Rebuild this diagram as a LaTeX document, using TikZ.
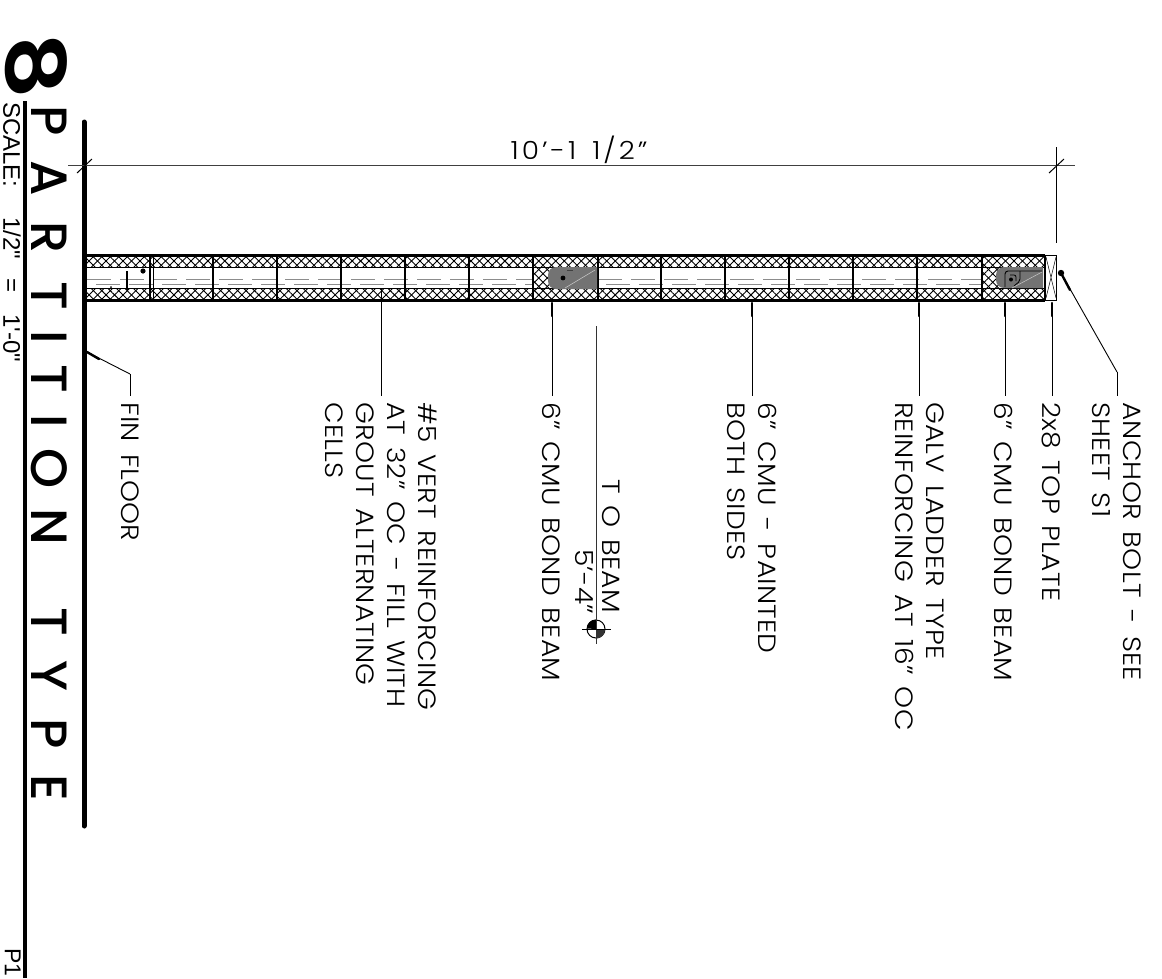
\documentclass[tikz,border=0pt]{standalone}
\usepackage{fontspec}
\setmainfont{Poppins Light}[FakeStretch=1.12,LetterSpace=1,WordSpace=1.5]
\newfontfamily\titlefont{Poppins}[UprightFont=* Medium]
\newfontfamily\eightfont{Poppins}[UprightFont=* SemiBold]
\newfontfamily\scalefont{Liberation Sans}
\usetikzlibrary{patterns.meta,positioning}

\begin{document}
\begin{tikzpicture}[x=1pt, y=-1pt]
% STYLES
\tikzset{%
    note/.style={%
rotate=-90,
inner sep=0pt,
align=left,
anchor=north west,
font=\fontsize{25}{31}\selectfont
                          },
    titleletter/.style={%
rotate=-90,
inner sep=0pt,
font=\titlefont\fontsize{51}{51}\selectfont
                          },
    leader/.style={line width=0.9pt, shorten >=6pt},
    stub/.style={line width=2.4pt, line cap=round},
    crosshatch/.style={%
pattern={Lines[angle=45,distance=6pt,line width=0.9pt]},
preaction={pattern={Lines[angle=-45,distance=6pt,line width=0.9pt]}}
                          },
    rebar/.style={gray!90, line width=1pt, dash pattern=on 24pt off 9pt},
    grout/.style={fill=black!55}
             }
\useasboundingbox (0,0) rectangle (1162,978);

% Draw title
\node [rotate=-90, inner sep=0pt, font=\eightfont\fontsize{82}{82}\selectfont, xscale=1.2, xslant=-0.12] (eight) at (36,66) {8};
\foreach \letter/\ypos in {P/121,A/178,R/238,T/296,I/337,T/379,I/421,O/468,N/527,T/622,Y/676,P/734,E/788}
  \node [titleletter] (title\ypos) at (49,\ypos) {\letter};
\node [rotate=-90, inner sep=0pt, anchor=north west, font=\scalefont\fontsize{24}{24}\selectfont] (scale) at (21,102) {SCALE:\hspace{30pt}1/2"\hspace{19pt}=\hspace{22pt}1'-0"};
\node [rotate=-90, inner sep=0pt, anchor=north west, font=\scalefont\fontsize{23}{23}\selectfont] (sheet) at (21,948) {P1};
\draw [line width=3.5pt] (25,101) -- (25,978);
\draw [line width=5pt, line cap=round] (84,122) -- (84,826);

% Draw wall
\foreach \ytop/\ybot in {256/267,289/300}
  \fill [crosshatch] (87,\ytop) rectangle (1045,\ybot);
\foreach \xleft/\xright in {533/560,982/1005}
  \fill [crosshatch] (\xleft,267) rectangle (\xright,289);
\draw [rebar] (87,279) -- (532,279);
\draw [rebar] (96,284) -- (532,284);
\draw [rebar] (598,279) -- (981,279);
\draw [rebar] (606,284) -- (981,284);
\draw [line width=0.7pt] (87,267.5) -- (1045,267.5) (87,288.5) -- (1045,288.5);
\draw [line width=3.5pt] (87,255.5) -- (1045,255.5) (87,300.5) -- (1045,300.5);
\foreach \xjoint in {150,213,277,341,405,469,533,598,661,725,789,853,917,982,1045}
  \draw [line width=1.6pt] (\xjoint,255) -- (\xjoint,301);
\draw [line width=0.7pt] (153,255) -- (153,301);

% Draw bars and bond beams
\draw [line width=1.6pt] (127,271) -- (127,290);
\fill (143,271) circle (2.6pt) (111,287) circle (1pt);
\fill [grout] (597,267) [rounded corners=8pt] -- (548,267) -- (548,289) [sharp corners] -- (597,289) -- cycle;
\fill (563,278) circle (2.4pt);
\draw [black!75, line width=1pt] (567,270.5) -- (573,270.5);
\draw [white!80!black, line width=0.5pt] (565,288) -- (595,270);
\fill [grout] (1043,267) [rounded corners=8pt] -- (996,267) -- (996,288) [sharp corners] -- (1043,288) -- cycle;
\draw [line width=0.9pt, rounded corners=3pt] (1042,271) -- (1005,271) -- (1005,287);
\draw [line width=0.8pt, rounded corners=2pt] (1020,271) -- (1020,281) -- (1014,286) (1010,275) -- (1016,275) -- (1016,281);
\fill (1011,279.5) circle (2pt);
\draw [white!80!black, line width=0.5pt] (1012,288) -- (1042,272);

% Draw top plate
\draw [line width=0.8pt] (1045.5,255) rectangle (1056.5,300);
\draw [line width=0.5pt] (1046,257) -- (1056,298) (1056,257) -- (1046,298);

% Draw dimension
\draw [black!75, line width=1pt] (68,165.5) -- (1075,165.5);
\draw [line width=1pt] (77,173) -- (92,159);
\draw [line width=1pt] (1049,173) -- (1064,159);
\draw [line width=0.9pt] (1056,147) -- (1056,243);
\node [inner sep=0pt, font=\fontsize{25}{25}\selectfont\addfontfeature{LetterSpace=12}] (span) at (579,150) {10'-1 1/2"};

% Draw notes
\node [note] (finfloor) at (139,402) {FIN FLOOR};
\node [note] (vertbar) at (437,402) {\#5 VERT REINFORCING\\AT 32" OC - FILL WITH\\GROUT ALTERNATING\\CELLS};
\node [note] (bondbeamA) at (561,402) {6" CMU BOND BEAM};
\node [note] (painted) at (777,402) {6" CMU - PAINTED\\BOTH SIDES};
\node [note] (ladder) at (944,402) {GALV LADDER TYPE\\REINFORCING AT 16" OC};
\node [note] (bondbeamB) at (1013,402) {6" CMU BOND BEAM};
\node [note] (topplate) at (1061,402) {2x8 TOP PLATE};
\node [note] (anchorbolt) at (1141,402) {ANCHOR BOLT - SEE\\SHEET S1};
\node [note] (tobeam) at (620,479) {T O BEAM};
\node [note] (elev) at (594,549) {5'-4"};

% Draw beam marker
\node [circle, draw, line width=1pt, minimum size=18pt, inner sep=0pt] (marker) at (596,629) {};
\fill (marker.center) -- (marker.north) arc (90:180:9pt) -- cycle;
\fill [black!80] (marker.center) -- (marker.south) arc (-90:0:9pt) -- cycle;
\coordinate (beamtop) at (596,326);
\coordinate (beamend) at (596,644);
\draw [black!80, line width=1pt] (beamtop) -- (beamend);
\draw [line width=0.7pt] (582,629) -- (611,629);

% Draw the links between notes and wall
\coordinate (wallbar) at (381,289);
\coordinate (wallA) at (552,303);
\coordinate (wallB) at (752,303);
\coordinate (wallC) at (919,303);
\coordinate (wallD) at (1005,303);
\coordinate (wallE) at (1052,303);
\coordinate (bolt) at (1061,273);
\coordinate (floor) at (87,352);
\coordinate (finbend) at (130,374);
\coordinate (boltbend) at (1117,372);
\path [leader]
(wallbar) edge (wallbar |- vertbar.west)
(wallA) edge (wallA |- bondbeamA.west)
(wallB) edge (wallB |- painted.west)
(wallC) edge (wallC |- ladder.west)
(wallD) edge (wallD |- bondbeamB.west)
(wallE) edge (wallE |- topplate.west)
(finbend) edge (finbend |- finfloor.west)
(boltbend) edge (boltbend |- anchorbolt.west);
\draw [line width=0.9pt] (floor) -- (finbend);
\draw [line width=0.9pt] (bolt) -- (boltbend);
\foreach \wall in {wallA,wallB,wallC,wallD,wallE}
  \draw [stub] (\wall) -- ++(0,13);
\draw [stub] (bolt) -- ++(9,17);
\draw [stub] (floor) -- ++(12,7);
\fill (bolt) circle (3.2pt);
\end{tikzpicture}
\end{document}
